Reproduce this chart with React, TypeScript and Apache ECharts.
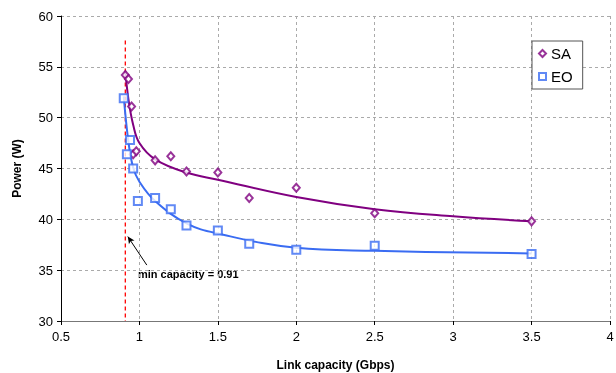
import React, { useEffect, useRef } from "react";
import * as echarts from "echarts";

const saPoints: [number, number][] = [
  [0.91, 54.2], [0.93, 53.8], [0.95, 51.1], [0.96, 46.4], [0.98, 46.7],
  [1.1, 45.8], [1.2, 46.2], [1.3, 44.7], [1.5, 44.6], [1.7, 42.1],
  [2.0, 43.1], [2.5, 40.6], [3.5, 39.8],
];
const eoPoints: [number, number][] = [
  [0.9, 51.9], [0.92, 46.4], [0.94, 47.8], [0.96, 45.0], [0.99, 41.8],
  [1.1, 42.1], [1.2, 41.0], [1.3, 39.4], [1.5, 38.9], [1.7, 37.6],
  [2.0, 37.0], [2.5, 37.4], [3.5, 36.6],
];
const saTrend: [number, number][] = [
  [0.91, 54.6], [0.93, 51.8], [0.96, 49.3], [1.0, 47.5],
  [1.1, 45.9], [1.3, 44.6], [1.5, 43.9],
  [2.0, 42.2], [2.5, 41.0], [3.0, 40.3], [3.5, 39.8],
];
const eoTrend: [number, number][] = [
  [0.9, 52.1], [0.93, 47.6], [0.96, 45.1], [1.0, 43.7],
  [1.1, 41.8], [1.3, 39.6], [1.5, 38.6],
  [2.0, 37.2], [2.5, 36.9], [3.5, 36.65],
];
const minCapacity = 0.91;
const minCapLine: [number, number][] = [[minCapacity, 57.6], [minCapacity, 30]];
const arrowFrom: [number, number] = [1.047, 35.5];
const arrowTo: [number, number] = [0.926, 38.3];

const PURPLE = "#800080";
const BLUE = "#3a6cf2";

export default function App() {
  const ref = useRef<HTMLDivElement>(null);
  useEffect(() => {
    if (!ref.current) return;
    const chart = echarts.init(ref.current, undefined, { renderer: "svg" });
    const font = "Liberation Sans, Arial, sans-serif";
    chart.setOption({
      animation: false,
      textStyle: { fontFamily: font },
      grid: { left: 61, right: 6, top: 16, bottom: 52, outerBoundsMode: "none" },
      legend: {
        left: 532,
        top: 41,
        orient: "vertical",
        data: [
          { name: "SA", icon: "emptyDiamond", itemStyle: { borderWidth: 1 } },
          { name: "EO", icon: "emptyRect", itemStyle: { borderWidth: 1 } },
        ],
        itemWidth: 7,
        itemHeight: 7,
        itemGap: 8,
        padding: [5, 10, 5, 6],
        backgroundColor: "#fff",
        borderColor: "#555",
        borderWidth: 1,
        textStyle: { fontSize: 15, color: "#000", fontFamily: font },
      },
      xAxis: {
        type: "value",
        min: 0.5,
        max: 4,
        interval: 0.5,
        name: "Link capacity (Gbps)",
        nameLocation: "middle",
        nameGap: 38,
        nameTextStyle: { fontWeight: "bold", fontSize: 12, color: "#000" },
        axisLine: { lineStyle: { color: "#777", width: 1 } },
        axisTick: { show: true, length: 4, lineStyle: { color: "#000" } },
        axisLabel: { fontSize: 13, color: "#000", margin: 9 },
        splitLine: { show: true, lineStyle: { color: "#aaa", type: [3, 3] } },
      },
      yAxis: {
        type: "value",
        min: 30,
        max: 60,
        interval: 5,
        name: "Power (W)",
        nameLocation: "middle",
        nameGap: 38,
        nameTextStyle: { fontWeight: "bold", fontSize: 12, color: "#000" },
        axisLine: { show: true, lineStyle: { color: "#000", width: 1 } },
        axisTick: { show: true, length: 4, lineStyle: { color: "#000" } },
        axisLabel: { fontSize: 13, color: "#000", margin: 8 },
        splitLine: { show: true, lineStyle: { color: "#aaa", type: [3, 3] } },
      },
      series: [
        {
          name: "minline",
          type: "line",
          data: minCapLine,
          symbol: "none",
          lineStyle: { color: "#ff0000", type: [4, 3], width: 1.3 },
          silent: true,
          z: 1,
        },
        {
          name: "SA trend",
          type: "line",
          data: saTrend,
          symbol: "none",
          smooth: 0.4,
          lineStyle: { color: PURPLE, width: 2 },
          z: 2,
        },
        {
          name: "EO trend",
          type: "line",
          data: eoTrend,
          symbol: "none",
          smooth: 0.4,
          lineStyle: { color: BLUE, width: 2 },
          z: 2,
        },
        {
          name: "SA",
          type: "scatter",
          data: saPoints,
          symbol: "emptyDiamond",
          symbolSize: [7, 8],
          itemStyle: { color: PURPLE, borderColor: PURPLE, borderWidth: 1 },
          z: 3,
        },
        {
          name: "EO",
          type: "scatter",
          data: eoPoints,
          symbol: "emptyRect",
          symbolSize: 8,
          itemStyle: { color: BLUE, borderColor: BLUE, borderWidth: 1 },
          z: 3,
          markLine: {
            silent: true,
            symbol: ["none", "arrow"],
            symbolSize: [5, 7],
            label: { show: false },
            lineStyle: { color: "#000", type: "solid", width: 1 },
            data: [[{ coord: arrowFrom }, { coord: arrowTo }]],
          },
        },
      ],
      graphic: [
        {
          type: "text",
          left: 138,
          top: 268,
          style: {
            text: "min capacity = " + minCapacity,
            font: "bold 11px Liberation Sans, Arial, sans-serif",
            fill: "#000",
          },
        },
      ],
    });
    return () => chart.dispose();
  }, []);
  return (
    <div
      ref={ref}
      style={{ position: "fixed", left: 0, top: 0, width: 616, height: 373 }}
    />
  );
}
